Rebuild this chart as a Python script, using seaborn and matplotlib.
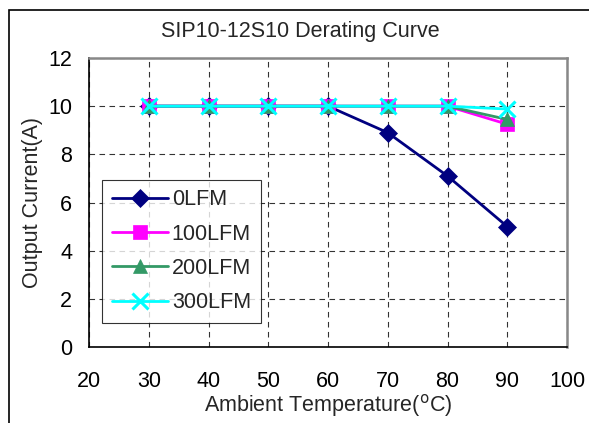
import pandas as pd
import matplotlib.pyplot as plt
import seaborn as sns
from matplotlib.patches import Rectangle

temps = [30, 40, 50, 60, 70, 80, 90]
lfm_0 = [10, 10, 10, 10, 8.9, 7.1, 5.0]
lfm_100 = [10, 10, 10, 10, 10, 10, 9.25]
lfm_200 = [10, 10, 10, 10, 10, 10, 9.45]
lfm_300 = [10, 10, 10, 10, 10, 10, 9.88]
series_names = ['0LFM', '100LFM', '200LFM', '300LFM']

rows = []
for name, vals in zip(series_names, [lfm_0, lfm_100, lfm_200, lfm_300]):
    for t, v in zip(temps, vals):
        rows.append({'Temp': t, 'Current': v, 'Airflow': name})
df = pd.DataFrame(rows)

sns.set_style('white')
plt.rcParams['font.family'] = ['Liberation Sans', 'DejaVu Sans']

fs = 15.5
fig = plt.figure(figsize=(5.89, 4.23), dpi=100)
ax = fig.add_axes([89 / 589, 1 - 347 / 423, 478 / 589, 289 / 423])

colors = {'0LFM': '#000080', '100LFM': '#FF00FF', '200LFM': '#339966', '300LFM': '#00FFFF'}
markers = {'0LFM': 'D', '100LFM': 's', '200LFM': '^', '300LFM': 'x'}
sizes = {'0LFM': 9, '100LFM': 10, '200LFM': 10, '300LFM': 11}

for name in series_names:
    sub = df[df['Airflow'] == name]
    mk = markers[name]
    sns.lineplot(data=sub, x='Temp', y='Current', ax=ax, color=colors[name],
                 marker=mk, markersize=sizes[name], markeredgewidth=2.2 if mk == 'x' else 0.5,
                 markeredgecolor=colors[name], linewidth=2, label=name)

ax.set_xlim(20, 100)
ax.set_ylim(0, 12)
ax.set_xticks(range(20, 101, 10))
ax.set_yticks(range(0, 13, 2))
ax.tick_params(axis='both', direction='in', length=5, width=0.8, labelsize=fs,
               colors='black', pad=12)
ax.tick_params(axis='x', pad=17)
ax.grid(True, color='black', linestyle=(0, (5, 4)), linewidth=0.8, alpha=0.8)
for s in ['left', 'bottom']:
    ax.spines[s].set_color('black')
    ax.spines[s].set_linewidth(1.2)
for s in ['top', 'right']:
    ax.spines[s].set_color('#888888')
    ax.spines[s].set_linewidth(1.8)

ax.set_xlabel('Ambient Temperature($^{\\mathrm{o}}$C)', fontsize=fs, labelpad=0)
ax.set_ylabel('Output Current(A)', fontsize=fs, labelpad=4)

leg = ax.legend(loc='lower left', bbox_to_anchor=(0.027, 0.083), frameon=True,
                fancybox=False, edgecolor='black', fontsize=fs, handlelength=2.6,
                borderpad=0.45, labelspacing=0.62, handletextpad=0.2, borderaxespad=0)
leg.get_frame().set_linewidth(0.8)

fig.text(300 / 589, 1 - 31 / 423, 'SIP10-12S10 Derating Curve', ha='center', va='center',
         fontsize=fs)
fig.patches.append(Rectangle((9 / 589, -0.1), 1.2, 0.1 + 1 - 10 / 423, transform=fig.transFigure,
                             fill=False, edgecolor='black', linewidth=1.2, clip_on=False))

fig.savefig('out.png', dpi=100)
